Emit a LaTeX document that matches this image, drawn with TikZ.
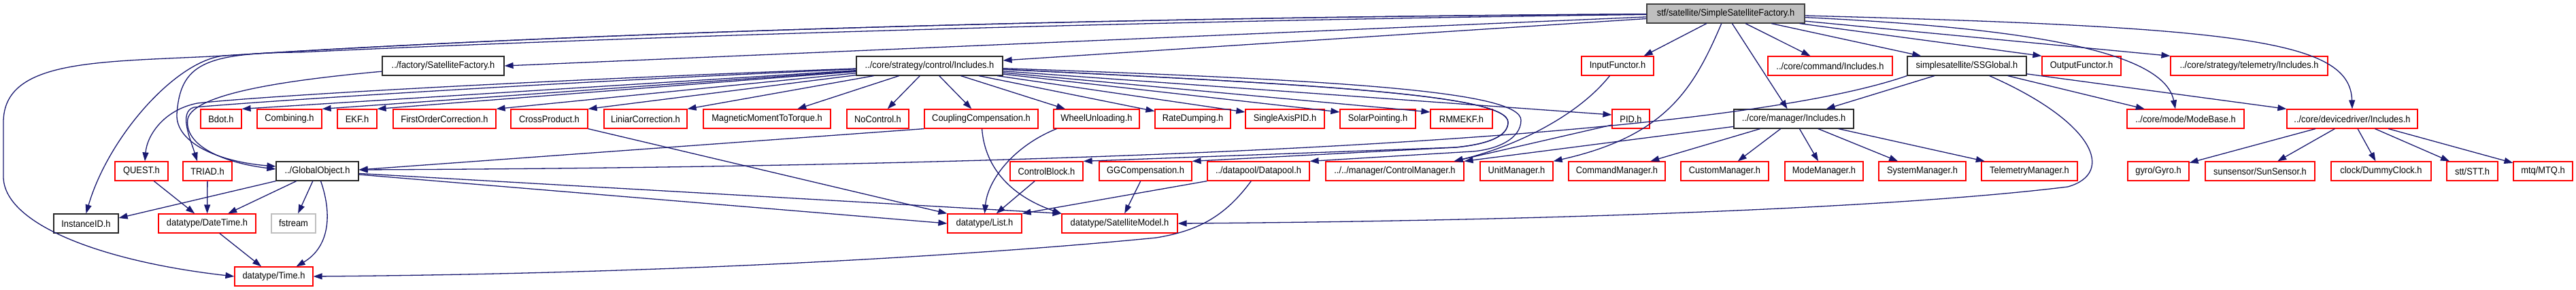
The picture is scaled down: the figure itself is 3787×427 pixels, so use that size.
\documentclass[tikz,border=0pt]{standalone}
\usepackage{fontspec}
\setmainfont{Liberation Sans}[FakeStretch=0.92]
\usetikzlibrary{arrows.meta,calc}
\definecolor{edgec}{HTML}{191970}
\definecolor{rootfill}{HTML}{BFBFBF}
\definecolor{rootline}{HTML}{404040}
\definecolor{extline}{HTML}{BFBFBF}
\tikzset{
  box/.style={draw, rectangle, minimum height=28pt, inner sep=0pt, line width=1.2pt,
    font=\fontsize{14}{16}\selectfont, text=black},
  redbox/.style={box, draw=red},
  blackbox/.style={box, draw=black!85},
  extbox/.style={box, draw=extline},
  rootbox/.style={box, draw=rootline, fill=rootfill},
  edge/.style={draw=edgec, line width=1.3pt, -{Triangle[length=13pt,width=9pt]}}
}
\begin{document}
\begin{tikzpicture}[x=1pt,y=-1pt]
\useasboundingbox (0,0) rectangle (3787,427);
% row 0
\node[rootbox, minimum width=232pt] (R) at (2537,20) {stf/satellite/SimpleSatelliteFactory.h};
% row 1
\node[blackbox, minimum width=179pt] (F) at (651.5,97) {../factory/SatelliteFactory.h};
\node[blackbox, minimum width=215pt] (C) at (1366.5,97) {../core/strategy/control/Includes.h};
\node[redbox, minimum width=106pt] (IF) at (2378,97) {InputFunctor.h};
\node[redbox, minimum width=183pt] (CMD) at (2690.5,97) {../core/command/Includes.h};
\node[blackbox, minimum width=175pt] (SS) at (2891.5,97) {simplesatellite/SSGlobal.h};
\node[redbox, minimum width=116pt] (OF) at (3060,97) {OutputFunctor.h};
\node[redbox, minimum width=231pt] (TEL) at (3306.5,97) {../core/strategy/telemetry/Includes.h};
% row 2
\node[redbox, minimum width=60pt] (Bdot) at (325,175) {Bdot.h};
\node[redbox, minimum width=95pt] (Comb) at (425.5,175) {Combining.h};
\node[redbox, minimum width=58pt] (EKF) at (525,175) {EKF.h};
\node[redbox, minimum width=151pt] (FOC) at (653.5,175) {FirstOrderCorrection.h};
\node[redbox, minimum width=113pt] (CP) at (807.5,175) {CrossProduct.h};
\node[redbox, minimum width=122pt] (LC) at (949,175) {LiniarCorrection.h};
\node[redbox, minimum width=187pt] (MMT) at (1127.5,175) {MagneticMomentToTorque.h};
\node[redbox, minimum width=91pt] (NoC) at (1290.5,175) {NoControl.h};
\node[redbox, minimum width=167pt] (CC) at (1442.5,175) {CouplingCompensation.h};
\node[redbox, minimum width=126pt] (WU) at (1612,175) {WheelUnloading.h};
\node[redbox, minimum width=111pt] (RD) at (1753.5,175) {RateDumping.h};
\node[redbox, minimum width=116pt] (SAP) at (1889,175) {SingleAxisPID.h};
\node[redbox, minimum width=111pt] (SP) at (2025.5,175) {SolarPointing.h};
\node[redbox, minimum width=91pt] (RMM) at (2148.5,175) {RMMEKF.h};
\node[redbox, minimum width=55pt] (PID) at (2397.5,175) {PID.h};
\node[blackbox, minimum width=176pt] (MI) at (2637,175) {../core/manager/Includes.h};
\node[redbox, minimum width=172pt] (MB) at (3213,175) {../core/mode/ModeBase.h};
\node[redbox, minimum width=192pt] (DD) at (3458,175) {../core/devicedriver/Includes.h};
% row 3
\node[redbox, minimum width=78pt] (QUEST) at (208,252) {QUEST.h};
\node[redbox, minimum width=72pt] (TRIAD) at (305,252) {TRIAD.h};
\node[blackbox, minimum width=121pt] (GO) at (466.5,252) {../GlobalObject.h};
\node[redbox, minimum width=107pt] (CB) at (1538.5,252) {ControlBlock.h};
\node[redbox, minimum width=136pt] (GG) at (1684,252) {GGCompensation.h};
\node[redbox, minimum width=150pt] (DP) at (1850,252) {../datapool/Datapool.h};
\node[redbox, minimum width=203pt] (CM) at (2050.5,252) {../../manager/ControlManager.h};
\node[redbox, minimum width=107pt] (UM) at (2229.5,252) {UnitManager.h};
\node[redbox, minimum width=142pt] (CmdM) at (2377,252) {CommandManager.h};
\node[redbox, minimum width=129pt] (CusM) at (2535.5,252) {CustomManager.h};
\node[redbox, minimum width=115pt] (MM) at (2681.5,252) {ModeManager.h};
\node[redbox, minimum width=128pt] (SysM) at (2826,252) {SystemManager.h};
\node[redbox, minimum width=141pt] (TM) at (2983.5,252) {TelemetryManager.h};
\node[redbox, minimum width=90pt] (Gyro) at (3173,252) {gyro/Gyro.h};
\node[redbox, minimum width=161pt] (Sun) at (3322.5,252) {sunsensor/SunSensor.h};
\node[redbox, minimum width=147pt] (Clk) at (3500.5,252) {clock/DummyClock.h};
\node[redbox, minimum width=75pt] (STT) at (3634.5,252) {stt/STT.h};
\node[redbox, minimum width=87pt] (MTQ) at (3738.5,252) {mtq/MTQ.h};
% row 4
\node[blackbox, minimum width=95pt] (IID) at (126.5,329) {InstanceID.h};
\node[redbox, minimum width=143pt] (DT) at (304.5,329) {datatype/DateTime.h};
\node[extbox, minimum width=65pt] (FS) at (431.5,329) {fstream};
\node[redbox, minimum width=109pt] (List) at (1447.5,329) {datatype/List.h};
\node[redbox, minimum width=170pt] (SM) at (1646,329) {datatype/SatelliteModel.h};
% row 5
\node[redbox, minimum width=115pt] (Time) at (402.5,407) {datatype/Time.h};

% ---- edges from root
\draw[edge] (R) -- (F.east);
\draw[edge] (R) -- ($(C.east)+(0,-8)$);
\draw[edge] (R) .. controls (1700,25) and (900,45) .. (330,82) .. controls (260,88) and (160,200) .. (IID.north);
\draw[edge] (R) .. controls (1700,25) and (900,45) .. (330,82) .. controls (150,92) and (5,85) .. (5,180) -- (5,260) .. controls (5,330) and (150,385) .. (Time.west);
\draw[edge] (R) .. controls (1700,30) and (900,55) .. (440,77) .. controls (300,78) and (265,95) .. (260,168) .. controls (258,210) and (320,238) .. ($(GO.west)+(0,-7)$);
\draw[edge] (R) -- ($(IF.north east)+(-15,0)$);
\draw[edge] (R) .. controls (2490,130) and (2450,200) .. (UM.north east);
\draw[edge] (R) -- (MI);
\draw[edge] (R) -- (CMD);
\draw[edge] (R) -- (SS);
\draw[edge] (R) -- (OF.north west);
\draw[edge] (R) -- (TEL.north west);
\draw[edge] (R) .. controls (2950,40) and (3180,70) .. ($(MB.north)+(-15,0)$);
\draw[edge] (R) .. controls (3300,40) and (3455,60) .. (DD.north);

% ---- factory
\draw[edge] (F) .. controls (420,118) and (285,138) .. (276,175) .. controls (270,215) and (330,240) .. ($(GO.west)+(0,-3)$);

% ---- control includes
\draw[edge] (C) -- (Bdot.north east);
\draw[edge] (C) -- (Comb.north east);
\draw[edge] (C) -- (EKF.north east);
\draw[edge] (C) -- (FOC.north east);
\draw[edge] (C) -- (CP.north east);
\draw[edge] (C) -- (LC.north east);
\draw[edge] (C) -- (MMT);
\draw[edge] (C) -- (NoC);
\draw[edge] (C) -- (CC);
\draw[edge] (C) -- (WU);
\draw[edge] (C) -- (RD);
\draw[edge] (C) -- ($(SAP.west)+(0,-10)$);
\draw[edge] (C) -- ($(SP.west)+(0,-10)$);
\draw[edge] (C) -- ($(RMM.west)+(0,-10)$);
\draw[edge] (C) -- ($(PID.west)+(0,-6)$);
\draw[edge] (C) .. controls (800,118) and (400,140) .. (290,152) .. controls (240,162) and (216,200) .. ($(QUEST.north)+(5,0)$);
\draw[edge] (C) .. controls (800,122) and (400,148) .. (285,158) .. controls (262,165) and (280,205) .. ($(TRIAD.north)+(-15,0)$);
\draw[edge] (C) .. controls (1950,125) and (2217,140) .. (2217,180) .. controls (2217,200) and (2190,212) .. (2140,217) -- (CB.north east);
\draw[edge] (C) .. controls (1950,125) and (2217,140) .. (2217,180) .. controls (2217,200) and (2190,212) .. (2140,217) -- (GG.north east);
\draw[edge] (C) .. controls (1980,118) and (2236,135) .. (2236,177) .. controls (2236,205) and (2200,220) .. (2165,223) -- (DP.north east);

% ---- GlobalObject and friends
\draw[edge] (GO.south west) -- ($(IID.east)+(0,-8)$);
\draw[edge] (GO) -- (DT);
\draw[edge] (GO) -- (FS);
\draw[edge] (GO) .. controls (490,320) and (482,365) .. ($(Time.north east)+(-25,0)$);
\draw[edge] (GO) -- (List.west);
\draw[edge] (GO) -- (SM.north west);
\draw[edge] (QUEST) -- (DT);
\draw[edge] (TRIAD) -- (DT);
\draw[edge] (DT) -- (Time);
\draw[edge] (CC.south west) -- ($(GO.east)+(0,-2)$);
\draw[edge] (CC) .. controls (1448,250) and (1490,290) .. (SM.north west);
\draw[edge] (CP.south east) -- (List.north west);
\draw[edge] ($(WU.south west)+(5,0)$) .. controls (1490,215) and (1452,265) .. (List.north);
\draw[edge] (CB) -- (List);
\draw[edge] (GG) -- (SM);
\draw[edge] (DP.south west) -- (List.north east);
\draw[edge] (DP) .. controls (1800,320) and (1760,340) .. (1700,350) .. controls (1550,365) and (1100,402) .. (Time.east);

% ---- functors / managers
\draw[edge] (IF) .. controls (2320,170) and (2230,215) .. ($(CM.north east)+(-15,0)$);
\draw[edge] ($(PID.west)+(0,9)$) -- ($(CM.north east)+(-15,0)$);
\draw[edge] (MI) -- (CM.north east);
\draw[edge] (MI) -- (CmdM);
\draw[edge] (MI) -- (CusM);
\draw[edge] (MI) -- (MM);
\draw[edge] (MI) -- (SysM);
\draw[edge] (MI) -- (TM);

% ---- SSGlobal
\draw[edge] (SS) -- (MI);
\draw[edge] (SS) -- (MB);
\draw[edge] (SS) -- (DD.north west);
\draw[edge] (SS.south west) .. controls (2550,200) and (1700,245) .. ($(GO.east)+(0,-2)$);
\draw[edge] (SS) .. controls (3080,180) and (3110,255) .. (3040,275) .. controls (2800,305) and (2300,325) .. (SM.east);

% ---- device driver
\draw[edge] (DD) -- (Gyro);
\draw[edge] (DD) -- (Sun);
\draw[edge] (DD) -- (Clk);
\draw[edge] (DD) -- (STT);
\draw[edge] (DD) -- (MTQ);
\end{tikzpicture}
\end{document}
